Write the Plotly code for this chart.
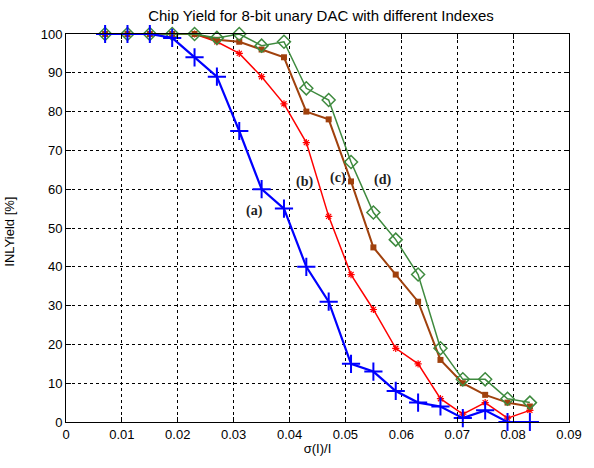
import plotly.graph_objects as go

x = [0.007, 0.011, 0.015, 0.019, 0.023, 0.027, 0.031, 0.035, 0.039, 0.043,
     0.047, 0.051, 0.055, 0.059, 0.063, 0.067, 0.071, 0.075, 0.079, 0.083]
yield_a = [100, 100, 100, 99, 94, 89, 75, 60, 55, 40, 31, 15, 13, 8, 5, 4, 1, 3, 0, 0]
yield_b = [100, 100, 100, 100, 100, 98, 95, 89, 82, 72, 53, 38, 29, 19, 15, 6, 2, 5, 1, 3]
yield_c = [100, 100, 100, 100, 100, 98.5, 98, 96, 94, 80, 78, 62, 45, 38, 31, 16, 10, 7, 5, 4]
yield_d = [100, 100, 100, 100, 100, 99, 100, 97, 98, 86, 83, 67, 54, 47, 38, 19, 11, 11, 6, 5]

labels = ["(a)", "(b)", "(c)", "(d)"]
label_x = [0.0337, 0.0427, 0.0487, 0.0566]
label_y = [54.4, 61.9, 63, 62.4]

xticks = [0, 0.01, 0.02, 0.03, 0.04, 0.05, 0.06, 0.07, 0.08, 0.09]
xticklabels = ["0", "0.01", "0.02", "0.03", "0.04", "0.05", "0.06", "0.07", "0.08", "0.09"]
yticks = [0, 10, 20, 30, 40, 50, 60, 70, 80, 90, 100]

SANS = "Liberation Sans, Arial, sans-serif"

fig = go.Figure()
fig.add_trace(go.Scatter(x=x, y=yield_b, mode="lines+markers", cliponaxis=False,
                         line=dict(color="#FF0000", width=1.5),
                         marker=dict(symbol="asterisk-open", size=6,
                                     line=dict(color="#FF0000", width=1.2))))
fig.add_trace(go.Scatter(x=x, y=yield_c, mode="lines+markers", cliponaxis=False,
                         line=dict(color="#A0410D", width=2),
                         marker=dict(symbol="square", size=6, color="#A0410D")))
fig.add_trace(go.Scatter(x=x, y=yield_d, mode="lines+markers", cliponaxis=False,
                         line=dict(color="#3E8A3E", width=1.5),
                         marker=dict(symbol="diamond-open", size=10,
                                     line=dict(color="#3E8A3E", width=1.5))))
fig.add_trace(go.Scatter(x=x, y=yield_a, mode="lines+markers", cliponaxis=False,
                         line=dict(color="#0000FF", width=2.2),
                         marker=dict(symbol="cross-thin-open", size=13,
                                     line=dict(color="#0000FF", width=2))))

for t, lx, ly in zip(labels, label_x, label_y):
    fig.add_annotation(x=lx, y=ly, text="<b>" + t + "</b>", showarrow=False,
                       font=dict(family="Liberation Serif, Times New Roman, serif",
                                 size=14, color="#222222"))

# y-axis title placed as rotated text
fig.add_annotation(text="INLYield [%]", xref="paper", yref="paper",
                   x=(9 - 66) / 510, y=0.49, xanchor="center", yanchor="middle",
                   textangle=-90, showarrow=False,
                   font=dict(family=SANS, size=13, color="black"))

fig.update_layout(
    width=594, height=468,
    margin=dict(l=66, r=18, t=34, b=46),
    paper_bgcolor="white", plot_bgcolor="white",
    showlegend=False,
    title=dict(text="Chip Yield for 8-bit unary DAC with different Indexes",
               x=(66 + 576) / 2 / 594, xanchor="center", y=1 - 16 / 468, yanchor="middle",
               font=dict(family=SANS, size=15, color="black")),
    font=dict(family=SANS, size=13, color="black"),
)
fig.update_xaxes(range=[0, 0.09], tickvals=xticks, ticktext=xticklabels,
                 showline=True, linecolor="black", linewidth=1, mirror="ticks",
                 ticks="inside", ticklen=5, tickcolor="black",
                 showgrid=True, gridcolor="black", gridwidth=1, griddash="3px,3px",
                 zeroline=False, tickfont=dict(size=13),
                 title=dict(text="σ(I)/I", standoff=3, font=dict(size=13)))
fig.update_yaxes(range=[0, 100], tickvals=yticks,
                 showline=True, linecolor="black", linewidth=1, mirror="ticks",
                 ticks="inside", ticklen=5, tickcolor="black",
                 showgrid=True, gridcolor="black", gridwidth=1, griddash="3px,3px",
                 zeroline=False, tickfont=dict(size=13))

fig.write_html("out.html", config={"displayModeBar": False},
               post_script="document.body.style.margin='0';")
